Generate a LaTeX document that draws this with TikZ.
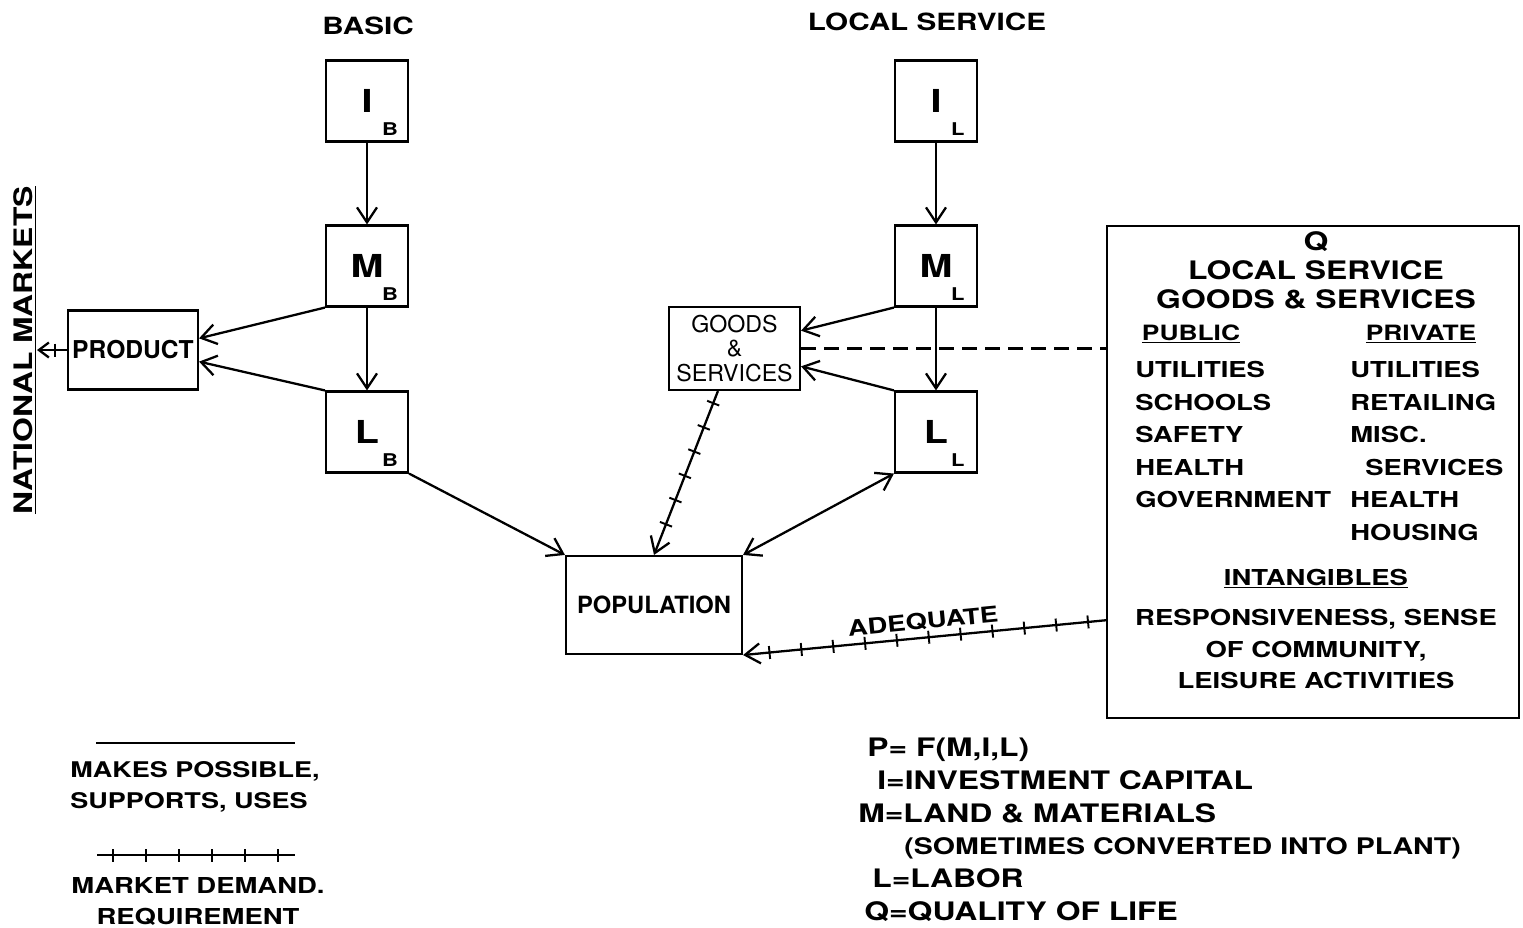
\documentclass[tikz,border=0pt]{standalone}
\usepackage{fontspec}
\setmainfont{TeX Gyre Heros}[FakeStretch=1.25]
\newfontfamily\plainfont{TeX Gyre Heros}
\usepackage{tikz}
\usetikzlibrary{positioning,arrows.meta,calc,decorations.markings}
\newcommand{\fsz}[2]{\fontsize{#1}{#2}\selectfont}
\newcommand{\unitlbl}[2]{\makebox[0pt]{#1}\rlap{\hspace{3mm}\smash{\raisebox{-13pt}{\fsz{10}{10}#2}}}}
\tikzset{
  unitbox/.style={draw,line width=1.2pt,minimum width=16.4mm,minimum height=16.2mm,inner sep=0pt,font=\fsz{18}{20}\bfseries},
  sectorbox/.style={draw,line width=1.2pt,inner sep=0pt,align=center},
  flow/.style={->,line width=1.3pt},
  demand/.style={postaction={decorate,decoration={markings,mark=between positions #1 with {\draw[-,line width=1.1pt] (0,-1.3mm) -- (0,1.3mm);}}}},
  txt/.style={inner sep=0pt,font=\fsz{12.5}{18.5}\bfseries},
  >={Straight Barb[length=3mm,width=4mm]},
}
\begin{document}
\begin{tikzpicture}[x=0.2mm,y=-0.2mm]
  \path[use as bounding box,fill=white] (0,0) rectangle (1523,928);
  % headings
  \node[txt,font=\fsz{13.5}{15}\bfseries,anchor=base] (basic) at (368,35) {BASIC};
  \node[txt,font=\fsz{13.5}{15}\bfseries,anchor=base] (local) at (927,31) {LOCAL SERVICE};
  % basic column
  \node[unitbox] (ib) at (367,101) {\unitlbl{I}{B}};
  \node[unitbox] (mb) at (367,266) {\unitlbl{M}{B}};
  \node[unitbox] (lb) at (367,432) {\unitlbl{L}{B}};
  % local service column
  \node[unitbox] (il) at (936,101) {\unitlbl{I}{L}};
  \node[unitbox] (ml) at (936,266) {\unitlbl{M}{L}};
  \node[unitbox] (ll) at (936,432) {\unitlbl{L}{L}};
  % sector boxes
  \node[sectorbox,minimum width=26mm,minimum height=15.8mm,font=\plainfont\fsz{14}{16}\bfseries] (product) at (133,350) {PRODUCT};
  \node[sectorbox,minimum width=26.2mm,minimum height=16.6mm,font=\plainfont\fsz{13.2}{14.2}] (goods) at (734.5,348.5) {GOODS\\\&\\SERVICES};
  \node[sectorbox,minimum width=35.2mm,minimum height=19.6mm,font=\plainfont\fsz{13.5}{15}\bfseries] (pop) at (654,605) {POPULATION};
  \node[txt,font=\fsz{14.5}{16}\bfseries,rotate=90,anchor=south] (natl) at (37,350) {\underline{NATIONAL MARKETS}};
  % quality of life box
  \node[draw,line width=1.2pt,minimum width=82.4mm,minimum height=98.4mm] (qbox) at (1313,472) {};
  \node[txt,font=\fsz{14.5}{16.5}\bfseries,align=center,anchor=north] (qtitle) at (1316,231) {Q\\LOCAL SERVICE\\GOODS \& SERVICES};
  \node[txt,font=\fsz{12}{14}\bfseries,anchor=base] (public) at (1191,340) {\underline{PUBLIC}};
  \node[txt,font=\fsz{12}{14}\bfseries,anchor=base] (private) at (1421,340) {\underline{PRIVATE}};
  \node[txt,align=left,anchor=north west] (publist) at (1135,361) {UTILITIES\\SCHOOLS\\SAFETY\\HEALTH\\GOVERNMENT};
  \node[txt,align=left,anchor=north west] (privlist) at (1350,361) {UTILITIES\\RETAILING\\MISC.\\\hspace*{3mm}SERVICES\\HEALTH\\HOUSING};
  \node[txt,anchor=base] (intang) at (1316,585) {\underline{INTANGIBLES}};
  \node[txt,font=\fsz{12.5}{17.9}\bfseries,align=center,anchor=north] (intlist) at (1316,609) {RESPONSIVENESS, SENSE\\OF COMMUNITY,\\LEISURE ACTIVITIES};
  % connectors
  \draw[flow] (ib) -- (mb);
  \draw[flow] (mb) -- (lb);
  \draw[flow] (il) -- (ml);
  \draw[flow] (ml) -- (ll);
  \draw[flow] (mb.south west) -- (product.10);
  \draw[flow] (lb.north west) -- (product.-10);
  \draw[flow] (lb.south east) -- (pop.north west);
  \draw[flow] (ml.south west) -- (goods.15);
  \draw[flow] (ll.north west) -- (goods.-15);
  \draw[flow,<->] (pop.north east) -- (ll.south west);
  \draw[flow,demand={2.6mm and -4mm step 5.2mm}] (goods) -- (pop.north);
  \draw[line width=1.3pt,dash pattern=on 3mm off 1.6mm] (goods.east) -- (goods.east -| qbox.west);
  \coordinate (qadeq) at ($(qbox.north west)!0.8!(qbox.south west)$);
  \draw[flow,demand={3.6mm and -3.5mm step 6.4mm}] (qadeq) -- (pop.south east)
    node[midway,above=1.3mm,sloped,txt] (adequate) {ADEQUATE};
  \draw[line width=1.3pt,-{Straight Barb[length=2mm,width=3mm]},demand={2.4mm and 3mm step 10mm}] (product.west) -- (natl.south |- product.west);
  % legend
  \coordinate (solidL) at (96,743);
  \coordinate (solidR) at (295,743);
  \draw[line width=1.3pt] (solidL) -- (solidR);
  \node[txt,font=\fsz{12.3}{17.6}\bfseries,align=left,anchor=north west] (makes) at (70,761) {MAKES POSSIBLE,\\SUPPORTS, USES};
  \coordinate (hatchL) at (97,855);
  \coordinate (hatchR) at (295,855);
  \draw[line width=1.3pt,demand={3.2mm and -3mm step 6.6mm}] (hatchL) -- (hatchR);
  \node[txt,font=\fsz{12.5}{17.6}\bfseries,align=center,anchor=north] (market) at (198,877) {MARKET DEMAND.\\REQUIREMENT};
  \node[txt,font=\fsz{14.5}{18.6}\bfseries,align=left,anchor=north west] (keys) at (858,738)
    {\hspace*{1.8mm}P= F(M,I,L)\\
     \hspace*{3.8mm}I=INVESTMENT CAPITAL\\
     M=LAND \& MATERIALS\\
     \hspace*{9.2mm}{\fsz{13}{18.6}(SOMETIMES CONVERTED INTO PLANT)}\\
     \hspace*{2.8mm}L=LABOR\\
     \hspace*{1.2mm}Q=QUALITY OF LIFE};
\end{tikzpicture}
\end{document}
